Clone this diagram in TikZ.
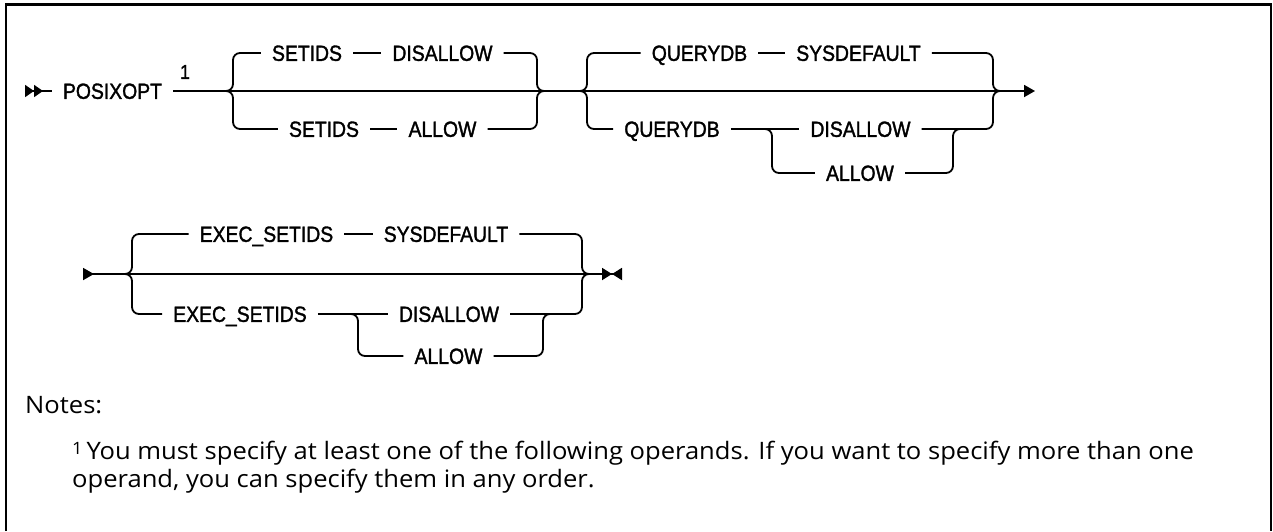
\documentclass[tikz,border=0pt]{standalone}
\usepackage{fontspec}
\setmainfont{Open Sans}[FakeStretch=1.065]
\newfontfamily\railfont[FakeStretch=0.88, FakeBold=1.5]{Liberation Sans}
\usetikzlibrary{arrows.meta}

\begin{document}
\begin{tikzpicture}[
  x=1pt, y=-1pt,
  rtip/.tip={Triangle[length=11pt, width=12pt]},
  rail/.style={line width=1.8pt, rounded corners=7pt},
  kw/.style={font=\railfont\fontsize{22}{22}\selectfont, inner xsep=11pt, inner ysep=0pt, text height=15.7pt, text depth=0pt},
  fnmark/.style={font=\railfont\fontsize{20}{20}\selectfont, inner sep=0pt},
  noted/.style={font=\fontsize{24}{28}\selectfont, inner sep=0pt}
]
\useasboundingbox (0,0) rectangle (1273,531);
\draw[line width=2.5pt] (6,531) -- (6,4.5) -- (1271,4.5) -- (1271,531);

% first line
\node[kw] (posix) at (112.5,91) {POSIXOPT};
\node[fnmark] (one) at (185,72) {1};
\node[kw] (sA1) at (307,53) {SETIDS};
\node[kw] (dA1) at (442.5,53) {DISALLOW};
\node[kw] (sB1) at (324,129) {SETIDS};
\node[kw] (aB1) at (442.5,129) {ALLOW};
\node[kw] (qA) at (699.5,53) {QUERYDB};
\node[kw] (sysA) at (858.5,53) {SYSDEFAULT};
\node[kw] (qB) at (672,129) {QUERYDB};
\node[kw] (dqB) at (860.5,129) {DISALLOW};
\node[kw] (aqB) at (860,173) {ALLOW};

\coordinate (st1) at (25,91);
\coordinate (jS1) at (226,91);
\coordinate (bS1) at (233,91);
\coordinate (bS2) at (537,91);
\coordinate (jS2) at (544,91);
\coordinate (jQ1) at (580,91);
\coordinate (bQ1) at (587,91);
\coordinate (bQ2) at (993,91);
\coordinate (jQ2) at (1000,91);
\coordinate (en1) at (1035,91);
\coordinate (kQ1) at (765,129);
\coordinate (vQ1) at (772,129);
\coordinate (vQ2) at (953,129);
\coordinate (kQ2) at (960,129);

\draw[rail, {rtip[reversed, length=9pt] rtip[reversed, length=9pt]}-] (st1) -- (posix.west);
\draw[rail] (posix.east) -- (jS1) -- (jS2) -- (jQ1) -- (jQ2);
\draw[rail, -{rtip}] (jQ2) -- (en1);

\draw[rail] (jS1) -| (bS1 |- sA1.west) -- (sA1.west);
\draw[rail] (sA1.east) -- (dA1.west);
\draw[rail] (dA1.east) -- (bS2 |- dA1.east) |- (jS2);
\draw[rail] (jS1) -| (bS1 |- sB1.west) -- (sB1.west);
\draw[rail] (sB1.east) -- (aB1.west);
\draw[rail] (aB1.east) -- (bS2 |- aB1.east) |- (jS2);

\draw[rail] (jQ1) -| (bQ1 |- qA.west) -- (qA.west);
\draw[rail] (qA.east) -- (sysA.west);
\draw[rail] (sysA.east) -- (bQ2 |- sysA.east) |- (jQ2);
\draw[rail] (jQ1) -| (bQ1 |- qB.west) -- (qB.west);
\draw[rail] (qB.east) -- (dqB.west);
\draw[rail] (dqB.east) -- (bQ2 |- dqB.east) |- (jQ2);
\draw[rail] (kQ1) -| (vQ1 |- aqB.west) -- (aqB.west);
\draw[rail] (aqB.east) -- (vQ2 |- aqB.east) |- (kQ2);

% second line
\node[kw] (eA) at (266.5,234) {EXEC\_SETIDS};
\node[kw] (sys2) at (446,234) {SYSDEFAULT};
\node[kw] (eB) at (240,314) {EXEC\_SETIDS};
\node[kw] (d2) at (449,314) {DISALLOW};
\node[kw] (a2) at (448.5,356) {ALLOW};

\coordinate (st2) at (83,274);
\coordinate (jE1) at (125,274);
\coordinate (bE1) at (132,274);
\coordinate (bE2) at (582,274);
\coordinate (jE2) at (589,274);
\coordinate (en2) at (622,274);
\coordinate (kE1) at (351,314);
\coordinate (vE1) at (358,314);
\coordinate (vE2) at (543,314);
\coordinate (kE2) at (550,314);

\draw[rail, {rtip[reversed]}-] (st2) -- (jE1) -- (jE2);
\draw[rail, -{rtip[length=10pt] rtip[reversed, length=10pt]}] (jE2) -- (en2);

\draw[rail] (jE1) -| (bE1 |- eA.west) -- (eA.west);
\draw[rail] (eA.east) -- (sys2.west);
\draw[rail] (sys2.east) -- (bE2 |- sys2.east) |- (jE2);
\draw[rail] (jE1) -| (bE1 |- eB.west) -- (eB.west);
\draw[rail] (eB.east) -- (d2.west);
\draw[rail] (d2.east) -- (bE2 |- d2.east) |- (jE2);
\draw[rail] (kE1) -| (vE1 |- a2.west) -- (a2.west);
\draw[rail] (a2.east) -- (vE2 |- a2.east) |- (kE2);

% notes
\node[noted, anchor=base west] (notes) at (25,413) {Notes:};
\node[noted, anchor=north west, align=left] (fn) at (72,441)
  {\raisebox{5.5pt}{\fontsize{17}{17}\selectfont 1}\,You must specify at least one of the following operands. If you want to specify more than one\\
   operand, you can specify them in any order.};

\end{tikzpicture}
\end{document}
